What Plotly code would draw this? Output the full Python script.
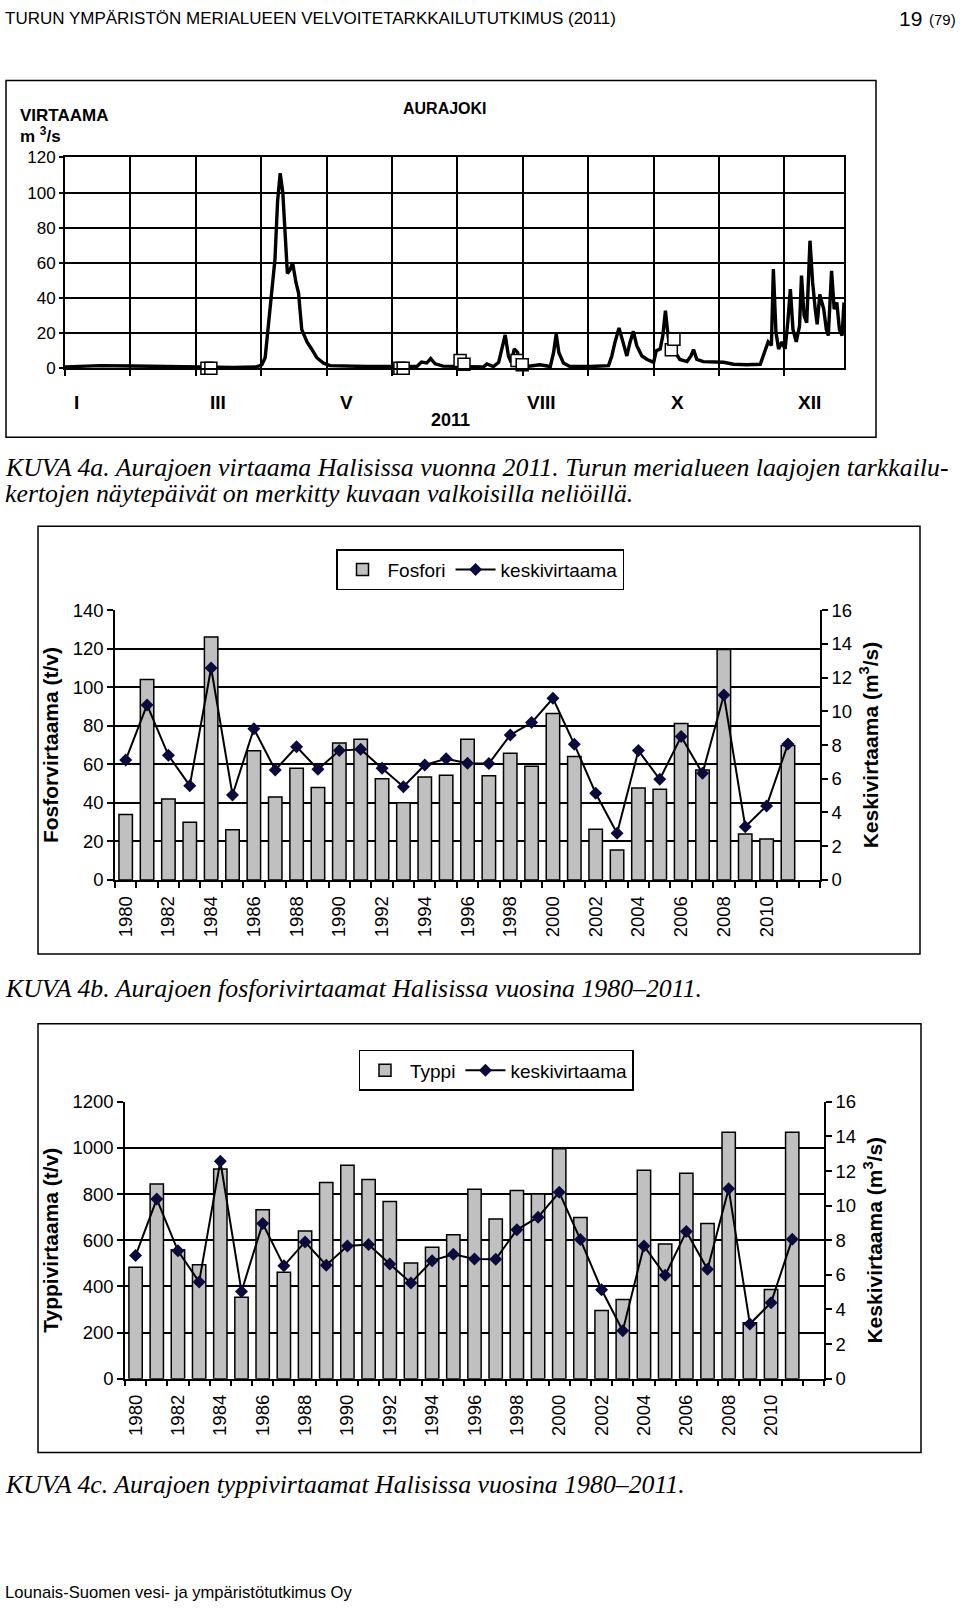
import plotly.graph_objects as go

W, H = 960, 1612

# ---------------- Data: Aurajoki discharge 2011 ----------------
flow_month = [0.00, 0.28, 0.54, 1.04, 1.55, 2.06, 2.57, 2.93, 3.01, 3.06, 3.11, 3.16, 3.21,
              3.25, 3.29, 3.33, 3.36, 3.40, 3.44, 3.48, 3.53, 3.57, 3.62, 3.70, 3.77, 3.85,
              3.95, 4.05, 4.61, 4.97, 5.12, 5.38, 5.45, 5.53, 5.59, 5.66, 5.78, 6.14, 6.40,
              6.45, 6.55, 6.63, 6.68, 6.73, 6.78, 6.82, 6.87, 6.92, 6.96, 7.06, 7.26, 7.42,
              7.47, 7.51, 7.55, 7.62, 7.72, 8.03, 8.31, 8.36, 8.41, 8.47, 8.53, 8.59, 8.64,
              8.69, 8.74, 8.82, 8.90, 9.00, 9.04, 9.10, 9.14, 9.18, 9.22, 9.26, 9.33, 9.40,
              9.51, 9.57, 9.61, 9.66, 9.76, 9.91, 10.07, 10.22, 10.42, 10.63, 10.70, 10.75,
              10.80, 10.83, 10.87, 10.91, 10.96, 11.01, 11.05, 11.09, 11.13, 11.18, 11.23,
              11.26, 11.30, 11.34, 11.39, 11.43, 11.47, 11.50, 11.54, 11.60, 11.64, 11.67,
              11.72, 11.76, 11.80, 11.84, 11.88, 11.91]
flow_value = [0.8, 1.0, 1.5, 1.3, 1.0, 0.5, 0.5, 0.8, 2, 6, 25, 45, 62,
              95, 111, 100, 80, 54, 56, 60, 49, 43, 22, 15, 11, 6,
              3, 1.5, 1.0, 1.2, 0.8, 1.0, 3.5, 3, 5.5, 2.5, 1.2, 0.8, 0.8,
              2.5, 1, 3.4, 11, 19, 7, 3.4, 11, 9, 2, 1, 2, 1,
              9, 19.5, 9, 3, 1, 1, 1.5, 7, 15, 23, 15, 7, 15,
              21, 13, 7, 5, 3.4, 10, 11, 18.6, 32.8, 18.6, 9, 9, 5,
              3.8, 7, 10.6, 5, 3.8, 3.8, 3.4, 2.3, 2, 2.3, 9, 15,
              13, 56.5, 20.5, 11, 15, 11, 26, 45, 22, 15, 24,
              52.7, 30, 26, 72.6, 49, 33.7, 25, 42, 33.7, 22, 18.6,
              55.5, 33.7, 37.5, 22, 18.6, 37.5]
sample_month = [2.17, 2.23, 5.12, 5.17, 6.04, 6.10, 6.91, 6.99, 9.27, 9.31]
sample_value = [0, 0, 0, 0, 4.4, 2.3, 4.4, 2.0, 10.6, 16.5]
month_labels = ["I", "III", "V", "VIII", "X", "XII"]
month_label_pos = [0.18, 2.34, 4.31, 7.29, 9.36, 11.39]

# ---------------- Data: annual loads 1980-2011 ----------------
years = list(range(1980, 2012))
fosfori = [34, 104, 42, 30, 126, 26, 67, 43, 58, 48, 71, 73, 52.5, 40, 53.4, 54.3,
           73, 54, 65.7, 59, 86.4, 64, 26.3, 15.6, 47.7, 47, 81.2, 57, 119.6, 23.9, 21.3, 69.8]
typpi = [483, 844, 559, 494, 909, 353, 732, 461, 640, 850, 925, 863, 768, 501, 569, 624,
         821, 692, 816, 800, 997, 699, 295, 343, 903, 584, 890, 673, 1068, 242, 386, 1068]
keskivirtaama = [7.11, 10.38, 7.39, 5.59, 12.57, 5.04, 8.97, 6.52, 7.9, 6.56, 7.67, 7.75,
                 6.62, 5.53, 6.82, 7.19, 6.92, 6.9, 8.6, 9.33, 10.77, 8.04, 5.14, 2.77,
                 7.67, 5.97, 8.5, 6.32, 10.97, 3.16, 4.39, 8.06]
year_labels = years[::2]

# ---------------- helpers (page pixel -> paper fraction) ----------------
Y_OFF, Y_SC = 10.5, 1592 / 1612   # compensates the vertical fit of the page when photographed

def px_x(x):
    return x / W

def px_y(y):
    return 1 - ((y - Y_OFF) / Y_SC) / H

SANS = "Liberation Sans, Arial, sans-serif"
SERIF = "Liberation Serif, Times New Roman, serif"
BAR_GRAY = "#c0c0c0"
NAVY = "#0a0a3c"

fig = go.Figure()

# ---- top chart ----
fig.add_trace(go.Scatter(x=flow_month, y=flow_value, mode="lines",
                         line=dict(color="black", width=3.4), xaxis="x", yaxis="y",
                         showlegend=False, hoverinfo="skip"))
fig.add_trace(go.Scatter(x=sample_month, y=sample_value, mode="markers",
                         marker=dict(symbol="square", size=12, color="white",
                                     line=dict(color="black", width=1.5)),
                         xaxis="x", yaxis="y", showlegend=False, cliponaxis=False))

# ---- middle chart ----
fig.add_trace(go.Bar(x=years, y=fosfori, name="Fosfori", width=0.63,
                     marker=dict(color=BAR_GRAY, line=dict(color="black", width=1.5)),
                     xaxis="x2", yaxis="y2", legend="legend"))
fig.add_trace(go.Scatter(x=years, y=keskivirtaama, name="keskivirtaama", mode="lines+markers",
                         line=dict(color="black", width=2),
                         marker=dict(symbol="diamond", size=10, color=NAVY),
                         xaxis="x2", yaxis="y3", legend="legend"))

# ---- bottom chart ----
fig.add_trace(go.Bar(x=years, y=typpi, name="Typpi", width=0.63,
                     marker=dict(color=BAR_GRAY, line=dict(color="black", width=1.5)),
                     xaxis="x3", yaxis="y4", legend="legend2"))
fig.add_trace(go.Scatter(x=years, y=keskivirtaama, name="keskivirtaama", mode="lines+markers",
                         line=dict(color="black", width=2),
                         marker=dict(symbol="diamond", size=10, color=NAVY),
                         xaxis="x3", yaxis="y5", legend="legend2"))

tickfont = dict(family=SANS, size=18.5, color="black")
titlefont = dict(family=SANS, size=21, color="black", weight="bold")

# top chart axes
fig.update_layout(
    xaxis=dict(domain=[px_x(65), px_x(844)], range=[0, 11.91], anchor="y",
               tickmode="array", tickvals=list(range(12)), showticklabels=False,
               ticks="outside", ticklen=6, tickwidth=2, tickcolor="black",
               showgrid=True, gridcolor="black", gridwidth=2,
               showline=True, linecolor="black", linewidth=2, mirror=True, zeroline=False),
    yaxis=dict(domain=[px_y(368), px_y(157)], range=[0, 120], anchor="x",
               tickmode="array", tickvals=list(range(0, 121, 20)),
               ticks="outside", ticklen=4, tickwidth=2, tickcolor="black",
               tickfont=dict(family=SANS, size=17, color="black"),
               showgrid=True, gridcolor="black", gridwidth=2,
               showline=True, linecolor="black", linewidth=2, mirror=True, zeroline=False),
)

def bar_axes(xname, yl, xdom, ydom, ymax, ydtick, ltitle):
    x_axis = dict(domain=xdom, range=[1979.5, 2012.5], anchor=yl,
                  tickmode="array", tickvals=year_labels, tickangle=-90,
                  ticks="outside", ticklen=7, tickcolor="rgba(0,0,0,0)",
                  tickfont=tickfont,
                  minor=dict(tickmode="array", tickvals=[y - 0.5 for y in range(1980, 2014)],
                             ticks="outside", ticklen=6, tickwidth=1.5, tickcolor="black",
                             showgrid=False),
                  showgrid=False, showline=True, linecolor="black", linewidth=1.5,
                  zeroline=False)
    y_left = dict(domain=ydom, range=[0, ymax], anchor=xname,
                  tickmode="array", tickvals=list(range(0, ymax + 1, ydtick)),
                  ticks="outside", ticklen=6, tickwidth=1.5, tickcolor="black",
                  tickfont=tickfont, showgrid=True, gridcolor="black", gridwidth=1.5,
                  showline=True, linecolor="black", linewidth=1.5, zeroline=False,
                  title=dict(text=ltitle, font=titlefont, standoff=8))
    y_right = dict(range=[0, 16], overlaying=yl, side="right",
                   anchor=xname, tickmode="array", tickvals=list(range(0, 17, 2)),
                   ticks="outside", ticklen=6, tickwidth=1.5, tickcolor="black",
                   tickfont=tickfont, showgrid=False, showline=True, linecolor="black",
                   linewidth=1.5, zeroline=False,
                   title=dict(text="Keskivirtaama (m<sup>3</sup>/s)", font=titlefont, standoff=12))
    return x_axis, y_left, y_right

x2, y2, y3 = bar_axes("x2", "y2", [px_x(115), px_x(820)], [px_y(880), px_y(610)],
                      140, 20, "Fosforvirtaama (t/v)")
x3, y4, y5 = bar_axes("x3", "y4", [px_x(125), px_x(824)], [px_y(1379), px_y(1102)],
                      1200, 200, "Typpivirtaama (t/v)")
fig.update_layout(xaxis2=x2, yaxis2=y2, yaxis3=y3, xaxis3=x3, yaxis4=y4, yaxis5=y5)

legend_common = dict(orientation="h", xanchor="center", yanchor="top",
                     bgcolor="white", bordercolor="black", borderwidth=1.5,
                     font=dict(family=SANS, size=19, color="black"),
                     itemwidth=40, traceorder="normal")
fig.update_layout(
    legend=dict(x=px_x(480), y=px_y(549), **legend_common),
    legend2=dict(x=px_x(496), y=px_y(1050), **legend_common),
)

# ---- annotations (texts) ----
ann = []
def text(x, y, s, size, family=SANS, anchor="left", weight="normal", valign="middle"):
    ann.append(dict(x=px_x(x), y=px_y(y), xref="paper", yref="paper", text=s,
                    showarrow=False, xanchor=anchor, yanchor=valign,
                    font=dict(family=family, size=size, color="black", weight=weight)))

text(3, 18.4, "TURUN YMPÄRISTÖN MERIALUEEN VELVOITETARKKAILUTUTKIMUS (2011)", 17)
text(924, 18.4, "19", 21, anchor="right")
text(958, 19.4, "(79)", 15, anchor="right")

text(18, 115, "VIRTAAMA", 17, weight="bold")
text(18, 135, "m <sup>3</sup>/s", 17, weight="bold")
text(445, 108, "AURAJOKI", 16, anchor="center", weight="bold")
text(450, 420, "2011", 18, anchor="center", weight="bold")
for lab, pos in zip(month_labels, month_label_pos):
    ann.append(dict(x=pos, y=px_y(402), xref="x", yref="paper", text=lab, showarrow=False,
                    xanchor="center", yanchor="middle",
                    font=dict(family=SANS, size=19, color="black", weight="bold")))

text(3, 467, "<i>KUVA 4a. Aurajoen virtaama Halisissa vuonna 2011. Turun merialueen laajojen tarkkailu-</i>", 25.8, SERIF)
text(3, 493, "<i>kertojen näytepäivät on merkitty kuvaan valkoisilla neliöillä.</i>", 25.8, SERIF)
text(3, 989, "<i>KUVA 4b. Aurajoen fosforivirtaamat Halisissa vuosina 1980–2011.</i>", 25.8, SERIF)
text(3, 1485, "<i>KUVA 4c. Aurajoen typpivirtaamat Halisissa vuosina 1980–2011.</i>", 25.8, SERIF)
text(3, 1593, "Lounais-Suomen vesi- ja ympäristötutkimus Oy", 16.6)

# ---- frames around the three figures ----
shapes = []
for (x0, y0, x1, y1) in [(6, 80, 876, 437), (38, 526, 920, 954), (38, 1024, 921, 1453)]:
    shapes.append(dict(type="rect", xref="paper", yref="paper",
                       x0=px_x(x0), x1=px_x(x1), y0=px_y(y1), y1=px_y(y0),
                       line=dict(color="black", width=1.5), fillcolor="rgba(0,0,0,0)",
                       layer="below"))

fig.update_layout(width=W, height=H, margin=dict(l=0, r=0, t=0, b=0),
                  paper_bgcolor="white", plot_bgcolor="white",
                  annotations=ann, shapes=shapes, bargap=0.3)

css_fix = ("var s=document.createElement('style');"
           "s.textContent='html,body{margin:0!important;padding:0!important;overflow:hidden;}"
           ".plotly-graph-div{display:block;}';"
           "document.head.appendChild(s);")
fig.write_html("out.html", config={"displayModeBar": False}, post_script=css_fix)
